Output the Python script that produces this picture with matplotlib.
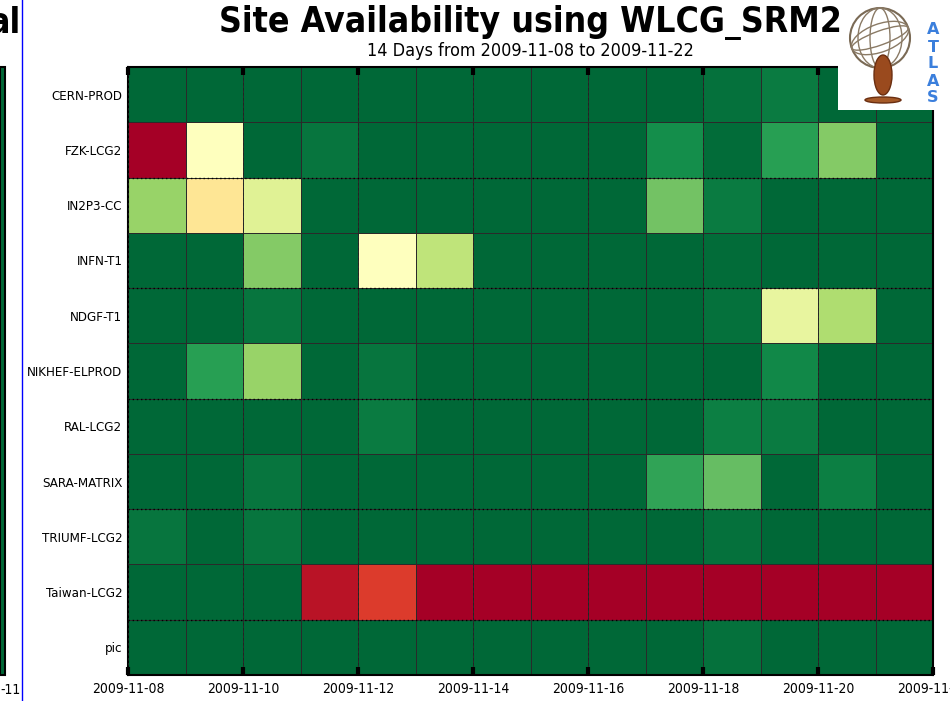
import numpy as np
import matplotlib
matplotlib.use("Agg")
import matplotlib.pyplot as plt
import matplotlib.dates as mdates
from matplotlib.patches import Rectangle, Circle, Ellipse
from matplotlib.lines import Line2D
import datetime as dt

# sites, top to bottom
sites = ["CERN-PROD", "FZK-LCG2", "IN2P3-CC", "INFN-T1", "NDGF-T1",
         "NIKHEF-ELPROD", "RAL-LCG2", "SARA-MATRIX", "TRIUMF-LCG2",
         "Taiwan-LCG2", "pic"]

start = dt.datetime(2009, 11, 8)
days = [start + dt.timedelta(days=i) for i in range(15)]  # cell edges

# availability in %, one row per site, 14 days
avail = [
    [100, 100, 100, 100, 100, 100, 100, 100, 100, 100,  98,  96, 100, 100],  # CERN-PROD
    [  0,  50, 100,  97, 100, 100, 100, 100, 100,  92,  99,  88,  75, 100],  # FZK-LCG2
    [ 72,  42,  58, 100, 100, 100, 100, 100, 100,  78,  96, 100, 100, 100],  # IN2P3-CC
    [100, 100,  75, 100,  50,  65, 100, 100, 100, 100,  99, 100, 100, 100],  # INFN-T1
    [100, 100,  97, 100, 100, 100, 100, 100, 100, 100,  98,  56,  68, 100],  # NDGF-T1
    [100,  88,  72, 100,  97, 100, 100, 100, 100, 100, 100,  93, 100, 100],  # NIKHEF-ELPROD
    [100, 100, 100, 100,  96, 100, 100, 100, 100, 100,  95,  96, 100, 100],  # RAL-LCG2
    [100, 100,  97, 100, 100, 100, 100, 100, 100,  87,  80, 100,  95, 100],  # SARA-MATRIX
    [ 97, 100,  97, 100, 100, 100, 100, 100, 100, 100,  98, 100, 100, 100],  # TRIUMF-LCG2
    [100, 100, 100,   4,  12,   0,   0,   0,   0,   0,   0,   0,   0,   0],  # Taiwan-LCG2
    [100, 100, 100, 100, 100, 100, 100, 100, 100, 100,  98, 100, 100, 100],  # pic
]

title = "Site Availability using WLCG_SRM2"
subtitle = "14 Days from 2009-11-08 to 2009-11-22"

plt.rcParams['font.family'] = ['DejaVu Sans']

fig = plt.figure(figsize=(9.5, 7.01), dpi=100)
ax = fig.add_axes([128/950, 1-675/701, 805/950, 608/701])

data = np.array(avail, dtype=float)
yedges = np.arange(len(sites) + 1)
ax.pcolormesh(days, yedges, data, cmap="RdYlGn", vmin=0, vmax=100,
              edgecolors="#2a2a2a", linewidth=0.6)
ax.set_ylim(len(sites), 0)
ax.set_xlim(days[0], days[-1])

ax.set_yticks(np.arange(len(sites)) + 0.5)
ax.set_yticklabels(sites, fontsize=9.5, fontstretch="condensed")
ax.set_yticks([2, 4, 6, 8, 10], minor=True)
ax.tick_params(axis="y", which="both", length=0, pad=4)
ax.grid(True, axis="y", which="minor", color="black", linestyle=(0, (1, 2)), linewidth=1.0)

ax.xaxis.set_major_locator(mdates.DayLocator(interval=2))
ax.xaxis.set_major_formatter(mdates.DateFormatter("%Y-%m-%d"))
ax.tick_params(axis="x", direction="in", length=6, width=3, top=True,
               labelsize=10, pad=5)
for lab in ax.get_xticklabels():
    lab.set_fontstretch("condensed")
ax.grid(True, axis="x", which="major", color="#222222", linestyle=(0, (3, 3)), linewidth=0.6)
ax.set_axisbelow(False)
for s in ax.spines.values():
    s.set_linewidth(1.5)

fig.text(0.5585, 0.968, title, ha="center", va="center", fontsize=25.5,
         fontweight="bold", fontstretch="condensed")
fig.text(0.5585, 0.927, subtitle, ha="center", va="center", fontsize=12.9,
         fontstretch="condensed")

# fragment of the neighbouring chart on the left
fig.patches.append(Rectangle((0, 1-675/701), 5/950, 608/701, transform=fig.transFigure,
                             facecolor="#006837", edgecolor="black", linewidth=1.5))
fig.lines.append(Line2D([22/950, 22/950], [0, 1], transform=fig.transFigure,
                        color="blue", linewidth=1))
fig.text(-0.012, 0.968, "al", ha="left", va="center", fontsize=25.5,
         fontweight="bold", fontstretch="condensed")
fig.text(0.0, 0.016, "-11", ha="left", va="center", fontsize=10,
         fontstretch="condensed")

# ATLAS logo box
lax = fig.add_axes([838/950, 1-110/701, 112/950, 110/701])
lax.set_xlim(0, 112)
lax.set_ylim(110, 0)
lax.axis("off")
lax.add_patch(Rectangle((0, 0), 112, 110, facecolor="white", edgecolor="none"))
lax.add_patch(Circle((42, 38), 30, facecolor="none", edgecolor="#7a6a55", linewidth=1.5))
for w in (10, 22):
    lax.add_patch(Ellipse((42, 38), w*2, 60, facecolor="none", edgecolor="#8a7a65", linewidth=1))
for h in (14, 28):
    lax.add_patch(Ellipse((42, 38), 60, h, angle=-20, facecolor="none", edgecolor="#8a7a65", linewidth=1))
lax.add_patch(Ellipse((45, 75), 18, 40, facecolor="#9a4a1e", edgecolor="#6a2e10"))
lax.add_patch(Ellipse((45, 100), 36, 6, facecolor="#a55a28", edgecolor="#6a2e10"))
for i, ch in enumerate("ATLAS"):
    lax.text(95, 30 + i*17, ch, ha="center", va="center", fontsize=11.5,
             fontweight="bold", color="#3b7fdc")

fig.savefig("out.png", dpi=100)
